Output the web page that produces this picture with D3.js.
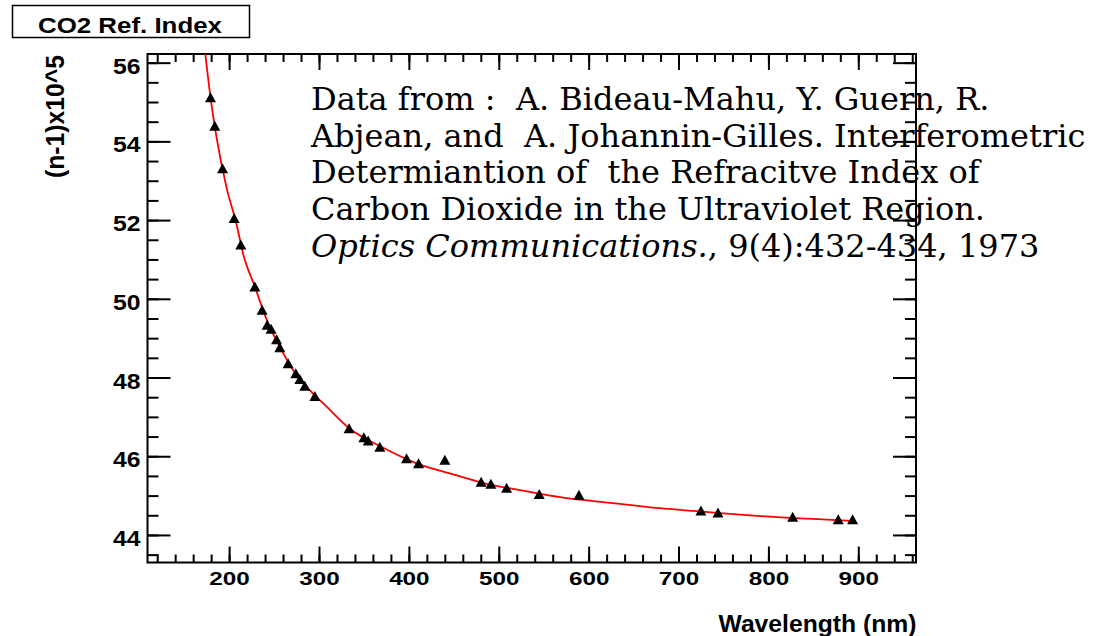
<!DOCTYPE html>
<html>
<head>
<meta charset="utf-8">
<script src="https://cdn.jsdelivr.net/npm/d3@7"></script>
<style>
  html, body { margin: 0; padding: 0; background: #fff; }
  svg { display: block; }
  .cite { white-space: pre; }
</style>
</head>
<body>
<svg id="chart" width="1103" height="636"></svg>
<script>
// Measured refractive index of CO2, (n-1) x 10^5, against wavelength in nm
const wavelength = [179.3, 184.1, 192.7, 205.6, 213.0, 228.6, 236.7, 242.3, 246.7, 252.8,
                    256.4, 265.7, 274.2, 278.7, 284.2, 295.4, 333.5, 349.9, 354.7, 367.7,
                    397.4, 410.8, 440.0, 480.4, 491.2, 508.7, 545.0, 589.2, 724.9, 743.9,
                    827.0, 877.7, 893.7];
const refIndex   = [55.12, 54.40, 53.32, 52.05, 51.38, 50.31, 49.72, 49.34, 49.24, 48.97,
                    48.77, 48.36, 48.11, 47.96, 47.79, 47.53, 46.71, 46.48, 46.40, 46.24,
                    45.95, 45.82, 45.91, 45.35, 45.30, 45.20, 45.04, 45.02, 44.62, 44.57,
                    44.46, 44.40, 44.40];

// Fitted dispersion curve, sampled along the wavelength range
const fitWavelength = [173.5, 179.3, 186.0, 197.1, 208.2, 215.6, 228.6, 243.4, 256.4, 271.2,
                       286.1, 310.2, 333.5, 367.7, 408.6, 449.3, 486.5, 523.5, 568.0, 605.1,
                       642.2, 679.3, 716.4, 753.5, 790.6, 827.7, 864.8, 893.0];
const fitIndex      = [56.22, 55.12, 54.10, 52.83, 51.90, 51.14, 50.31, 49.38, 48.78, 48.19,
                       47.77, 47.22, 46.71, 46.26, 45.82, 45.54, 45.30, 45.14, 44.96, 44.86,
                       44.77, 44.68, 44.61, 44.54, 44.48, 44.43, 44.39, 44.36];

const xMajorTicks = [200, 300, 400, 500, 600, 700, 800, 900];
const yMajorTicks = [44, 46, 48, 50, 52, 54, 56];

const titleText = "CO2 Ref. Index";
const xTitle = "Wavelength (nm)";
const yTitle = "(n-1)x10^5";
const citationLines = [
  "Data from :  A. Bideau-Mahu, Y. Guern, R.",
  "Abjean, and  A. Johannin-Gilles. Interferometric",
  "Determiantion of  the Refracitve Index of",
  "Carbon Dioxide in the Ultraviolet Region."
];
const citationJournal = "Optics Communications.";
const citationIssue = ", 9(4):432-434, 1973";

const sans = "'Liberation Sans', Arial, Helvetica, sans-serif";
const serif = "'DejaVu Serif', serif";

const frame = { left: 147.5, right: 916, top: 54, bottom: 562.5 };

const x = d3.scaleLinear().domain([109.2, 964.2]).range([frame.left, frame.right]);
const y = d3.scaleLinear().domain([43.30, 56.22]).range([frame.bottom, frame.top]);

const svg = d3.select("#chart");

// Title box
svg.append("rect")
  .attr("x", 12.5).attr("y", 5.5).attr("width", 237).attr("height", 32)
  .attr("fill", "#fff").attr("stroke", "#000").attr("stroke-width", 1.5);
svg.append("text")
  .attr("x", 130).attr("y", 32.5)
  .attr("text-anchor", "middle")
  .attr("font-family", sans).attr("font-weight", "bold").attr("font-size", 21.5)
  .attr("textLength", 184).attr("lengthAdjust", "spacingAndGlyphs")
  .text(titleText);

// Clip for the fit curve
svg.append("defs").append("clipPath").attr("id", "plot-clip")
  .append("rect")
  .attr("x", frame.left).attr("y", frame.top)
  .attr("width", frame.right - frame.left).attr("height", frame.bottom - frame.top);

// Citation text
const cite = svg.append("g").attr("font-family", serif).attr("font-size", 32).attr("fill", "#000");
citationLines.forEach((line, i) => {
  cite.append("text").attr("class", "cite")
    .attr("x", 311).attr("y", 110 + i * 36.7)
    .text(line);
});
const last = cite.append("text").attr("class", "cite")
  .attr("x", 311).attr("y", 110 + 4 * 36.7);
last.append("tspan").attr("font-style", "italic").text(citationJournal);
last.append("tspan").text(citationIssue);

// Axes (ticks drawn inward on all four sides)
function styleAxis(g) {
  g.select(".domain").remove();
  g.selectAll(".tick line").attr("stroke", "#000").attr("stroke-width", 2);
}

const xMinor = d3.range(120, 961, 20);
const yMinor = d3.range(43.5, 56.01, 0.5);

svg.append("g").attr("transform", `translate(0,${frame.bottom})`)
  .call(d3.axisBottom(x).tickValues(xMinor).tickSize(-8).tickFormat(""))
  .call(styleAxis);
const gxMajor = svg.append("g").attr("transform", `translate(0,${frame.bottom})`)
  .call(d3.axisBottom(x).tickValues(xMajorTicks).tickSize(-16).tickFormat(d3.format("d")))
  .call(styleAxis);
gxMajor.selectAll(".tick text")
  .attr("y", 22.8).attr("dy", null)
  .attr("fill", "#000")
  .attr("font-family", sans).attr("font-weight", "bold").attr("font-size", 18)
  .attr("textLength", 40.5).attr("lengthAdjust", "spacingAndGlyphs");

svg.append("g").attr("transform", `translate(0,${frame.top})`)
  .call(d3.axisTop(x).tickValues(xMinor).tickSize(-8).tickFormat(""))
  .call(styleAxis);
svg.append("g").attr("transform", `translate(0,${frame.top})`)
  .call(d3.axisTop(x).tickValues(xMajorTicks).tickSize(-16).tickFormat(""))
  .call(styleAxis);

svg.append("g").attr("transform", `translate(${frame.left},0)`)
  .call(d3.axisLeft(y).tickValues(yMinor).tickSize(-11).tickFormat(""))
  .call(styleAxis);
const gyMajor = svg.append("g").attr("transform", `translate(${frame.left},0)`)
  .call(d3.axisLeft(y).tickValues(yMajorTicks).tickSize(-23).tickFormat(d3.format("d")))
  .call(styleAxis);
gyMajor.selectAll(".tick text")
  .attr("x", -7).attr("dy", 10.5)
  .attr("fill", "#000")
  .attr("font-family", sans).attr("font-weight", "bold").attr("font-size", 22.5)
  .attr("textLength", 27.5).attr("lengthAdjust", "spacingAndGlyphs");

svg.append("g").attr("transform", `translate(${frame.right},0)`)
  .call(d3.axisRight(y).tickValues(yMinor).tickSize(-11).tickFormat(""))
  .call(styleAxis);
svg.append("g").attr("transform", `translate(${frame.right},0)`)
  .call(d3.axisRight(y).tickValues(yMajorTicks).tickSize(-23).tickFormat(""))
  .call(styleAxis);

// Frame
svg.append("rect")
  .attr("x", frame.left).attr("y", frame.top)
  .attr("width", frame.right - frame.left).attr("height", frame.bottom - frame.top)
  .attr("fill", "none").attr("stroke", "#000").attr("stroke-width", 2);

// Axis titles
svg.append("text")
  .attr("x", 916.5).attr("y", 631.5)
  .attr("text-anchor", "end")
  .attr("font-family", sans).attr("font-weight", "bold").attr("font-size", 23.5)
  .attr("textLength", 198).attr("lengthAdjust", "spacingAndGlyphs")
  .text(xTitle);
svg.append("text")
  .attr("transform", "translate(63.5,55) rotate(-90)")
  .attr("text-anchor", "end")
  .attr("font-family", sans).attr("font-weight", "bold").attr("font-size", 25.5)
  .attr("textLength", 123).attr("lengthAdjust", "spacingAndGlyphs")
  .text(yTitle);

// Fit curve
const fitPts = fitWavelength.map((w, i) => [w, fitIndex[i]]);
svg.append("path")
  .datum(fitPts)
  .attr("clip-path", "url(#plot-clip)")
  .attr("fill", "none").attr("stroke", "#ff0000").attr("stroke-width", 1.8)
  .attr("d", d3.line().x(d => x(d[0])).y(d => y(d[1])).curve(d3.curveMonotoneX));

// Data markers: filled upward triangles
const pts = wavelength.map((w, i) => [w, refIndex[i]]);
svg.append("g").selectAll("path")
  .data(pts)
  .join("path")
  .attr("fill", "#000")
  .attr("d", d => {
    const cx = x(d[0]), cy = y(d[1]);
    return `M${cx - 5.5},${cy + 5}L${cx + 5.5},${cy + 5}L${cx},${cy - 5}Z`;
  });
</script>
</body>
</html>
